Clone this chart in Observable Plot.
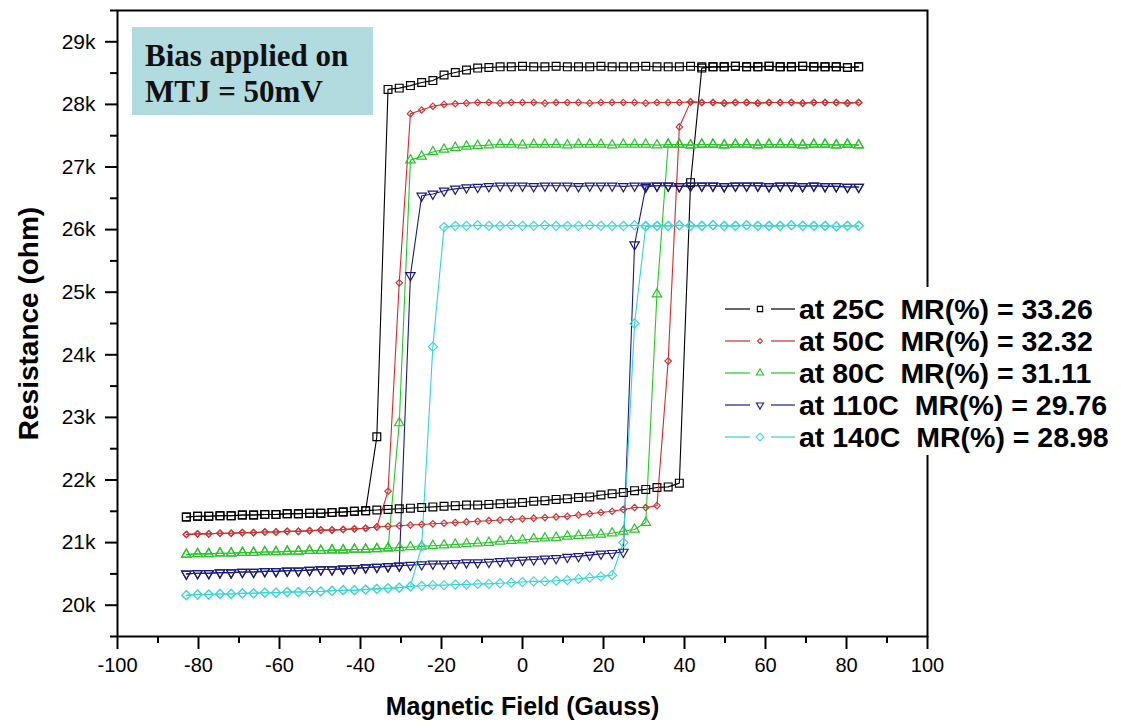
<!DOCTYPE html>
<html>
<head>
<meta charset="utf-8">
<script src="https://cdn.jsdelivr.net/npm/d3@7"></script>
<script src="https://cdn.jsdelivr.net/npm/@observablehq/plot@0.6"></script>
<style>
  body { margin: 0; background: #fff; }
  #chart { width: 1121px; height: 728px; }
</style>
</head>
<body>
<div id="chart"></div>
<script>
// Applied field sweep (Gauss), shared by every curve
const field = [
  -83, -80.23, -77.47, -74.7, -71.93, -69.17, -66.4, -63.63, -60.87, -58.1,
  -55.33, -52.57, -49.8, -47.03, -44.27, -41.5, -38.73, -35.97, -33.2, -30.43,
  -27.67, -24.9, -22.13, -19.37, -16.6, -13.83, -11.07, -8.3, -5.53, -2.77,
  0, 2.77, 5.53, 8.3, 11.07, 13.83, 16.6, 19.37, 22.13, 24.9,
  27.67, 30.43, 33.2, 35.97, 38.73, 41.5, 44.27, 47.03, 49.8, 52.57,
  55.33, 58.1, 60.87, 63.63, 66.4, 69.17, 71.93, 74.7, 77.47, 80.23,
  83
];

// Temperatures and magnetoresistance ratios
const temps = ["25C", "50C", "80C", "110C", "140C"];
const mrPercent = [33.26, 32.32, 31.11, 29.76, 28.98];

// Resistance (kOhm), increasing-field sweep, indexed like `field`
const r25Up = [
  21.41, 21.42, 21.42, 21.43, 21.43, 21.44, 21.44, 21.45, 21.45, 21.46,
  21.46, 21.47, 21.47, 21.48, 21.49, 21.50, 21.51, 21.52, 21.53, 21.54,
  21.55, 21.56, 21.57, 21.58, 21.59, 21.60, 21.60, 21.61, 21.62, 21.63,
  21.64, 21.66, 21.67, 21.69, 21.70, 21.72, 21.73, 21.76, 21.78, 21.80,
  21.83, 21.85, 21.88, 21.89, 21.95, 26.75, 28.58, 28.60, 28.60, 28.61,
  28.60, 28.60, 28.61, 28.60, 28.60, 28.61, 28.60, 28.60, 28.60, 28.59, 28.60
];
// Resistance (kOhm), decreasing-field sweep, indexed like `field`
const r25Down = [
  21.41, 21.42, 21.42, 21.43, 21.43, 21.44, 21.44, 21.45, 21.45, 21.46,
  21.46, 21.47, 21.47, 21.48, 21.49, 21.50, 21.51, 22.69, 28.24, 28.26,
  28.30, 28.35, 28.38, 28.47, 28.51, 28.55, 28.58, 28.59, 28.60, 28.60,
  28.61, 28.60, 28.60, 28.61, 28.60, 28.60, 28.60, 28.61, 28.60, 28.60,
  28.60, 28.61, 28.60, 28.60, 28.60, 28.61, 28.60, 28.60, 28.60, 28.61,
  28.60, 28.60, 28.61, 28.60, 28.60, 28.61, 28.60, 28.60, 28.60, 28.59, 28.60
];

const r50Up = [
  21.13, 21.14, 21.14, 21.15, 21.15, 21.16, 21.16, 21.17, 21.17, 21.18,
  21.18, 21.19, 21.20, 21.20, 21.21, 21.22, 21.23, 21.25, 21.26, 21.27,
  21.28, 21.29, 21.30, 21.31, 21.32, 21.33, 21.34, 21.35, 21.36, 21.37,
  21.38, 21.39, 21.40, 21.41, 21.42, 21.44, 21.46, 21.48, 21.50, 21.53,
  21.56, 21.56, 21.59, 23.90, 27.64, 28.04, 28.03, 28.03, 28.02, 28.03,
  28.03, 28.02, 28.03, 28.03, 28.03, 28.02, 28.03, 28.03, 28.03, 28.02, 28.03
];
const r50Down = [
  21.13, 21.14, 21.14, 21.15, 21.15, 21.16, 21.16, 21.17, 21.17, 21.18,
  21.18, 21.19, 21.20, 21.20, 21.21, 21.22, 21.23, 21.25, 21.82, 25.15,
  27.85, 27.91, 27.97, 28.00, 28.01, 28.02, 28.03, 28.03, 28.02, 28.03,
  28.03, 28.03, 28.02, 28.03, 28.03, 28.03, 28.02, 28.03, 28.03, 28.03,
  28.03, 28.02, 28.03, 28.03, 28.03, 28.04, 28.03, 28.03, 28.02, 28.03,
  28.03, 28.02, 28.03, 28.03, 28.03, 28.02, 28.03, 28.03, 28.03, 28.02, 28.03
];

const r80Up = [
  20.81, 20.82, 20.82, 20.83, 20.83, 20.84, 20.84, 20.85, 20.85, 20.86,
  20.86, 20.87, 20.87, 20.88, 20.88, 20.89, 20.89, 20.90, 20.91, 20.92,
  20.93, 20.94, 20.95, 20.96, 20.97, 20.98, 20.99, 21.00, 21.02, 21.03,
  21.04, 21.06, 21.07, 21.08, 21.10, 21.11, 21.12, 21.13, 21.15, 21.18,
  21.21, 21.32, 24.97, 27.36, 27.36, 27.35, 27.36, 27.36, 27.35, 27.36,
  27.36, 27.35, 27.36, 27.36, 27.36, 27.35, 27.36, 27.36, 27.35, 27.36, 27.35
];
const r80Down = [
  20.81, 20.82, 20.82, 20.83, 20.83, 20.84, 20.84, 20.85, 20.85, 20.86,
  20.86, 20.87, 20.87, 20.88, 20.88, 20.89, 20.89, 20.90, 20.91, 22.91,
  27.11, 27.17, 27.24, 27.28, 27.31, 27.33, 27.34, 27.35, 27.36, 27.36,
  27.35, 27.36, 27.36, 27.36, 27.35, 27.36, 27.36, 27.36, 27.35, 27.36,
  27.36, 27.36, 27.35, 27.36, 27.36, 27.35, 27.36, 27.36, 27.35, 27.36,
  27.36, 27.35, 27.36, 27.36, 27.36, 27.35, 27.36, 27.36, 27.35, 27.36, 27.35
];

const r110Up = [
  20.50, 20.51, 20.51, 20.52, 20.52, 20.53, 20.53, 20.54, 20.54, 20.55,
  20.55, 20.56, 20.57, 20.57, 20.58, 20.59, 20.60, 20.61, 20.62, 20.63,
  20.64, 20.65, 20.66, 20.66, 20.67, 20.68, 20.68, 20.69, 20.70, 20.71,
  20.72, 20.73, 20.74, 20.75, 20.77, 20.78, 20.80, 20.82, 20.83, 20.85,
  25.76, 26.68, 26.70, 26.70, 26.69, 26.70, 26.70, 26.70, 26.69, 26.70,
  26.70, 26.70, 26.69, 26.70, 26.70, 26.69, 26.70, 26.69, 26.69, 26.68, 26.68
];
const r110Down = [
  20.50, 20.51, 20.51, 20.52, 20.52, 20.53, 20.53, 20.54, 20.54, 20.55,
  20.55, 20.56, 20.57, 20.57, 20.58, 20.59, 20.60, 20.61, 20.62, 20.63,
  25.27, 26.54, 26.57, 26.62, 26.65, 26.67, 26.68, 26.69, 26.70, 26.70,
  26.70, 26.69, 26.70, 26.70, 26.70, 26.69, 26.70, 26.70, 26.70, 26.69,
  26.70, 26.70, 26.70, 26.70, 26.69, 26.70, 26.70, 26.70, 26.69, 26.70,
  26.70, 26.70, 26.69, 26.70, 26.70, 26.69, 26.70, 26.69, 26.69, 26.68, 26.68
];

const r140Up = [
  20.16, 20.17, 20.17, 20.18, 20.18, 20.19, 20.19, 20.20, 20.20, 20.21,
  20.21, 20.22, 20.22, 20.23, 20.24, 20.24, 20.25, 20.26, 20.27, 20.28,
  20.30, 20.31, 20.32, 20.32, 20.33, 20.33, 20.34, 20.34, 20.35, 20.36,
  20.37, 20.38, 20.38, 20.39, 20.40, 20.42, 20.44, 20.46, 20.48, 21.00,
  24.50, 26.05, 26.06, 26.06, 26.07, 26.06, 26.06, 26.07, 26.06, 26.06,
  26.07, 26.06, 26.06, 26.06, 26.07, 26.06, 26.06, 26.06, 26.05, 26.06, 26.06
];
const r140Down = [
  20.16, 20.17, 20.17, 20.18, 20.18, 20.19, 20.19, 20.20, 20.20, 20.21,
  20.21, 20.22, 20.22, 20.23, 20.24, 20.24, 20.25, 20.26, 20.27, 20.28,
  20.30, 20.94, 24.13, 26.04, 26.06, 26.06, 26.07, 26.06, 26.06, 26.07,
  26.06, 26.06, 26.07, 26.06, 26.06, 26.06, 26.07, 26.06, 26.06, 26.06,
  26.07, 26.06, 26.06, 26.06, 26.07, 26.06, 26.06, 26.07, 26.06, 26.06,
  26.07, 26.06, 26.06, 26.06, 26.07, 26.06, 26.06, 26.06, 26.05, 26.06, 26.06
];

// Axis ticks
const xTicks = [-100, -80, -60, -40, -20, 0, 20, 40, 60, 80, 100];
const xMinorTicks = [-90, -70, -50, -30, -10, 10, 30, 50, 70, 90];
const yTicks = [20, 21, 22, 23, 24, 25, 26, 27, 28, 29];
const yMinorTicks = [19.5, 20.5, 21.5, 22.5, 23.5, 24.5, 25.5, 26.5, 27.5, 28.5, 29.5];

// Appearance of each temperature curve
const upSweeps = [r25Up, r50Up, r80Up, r110Up, r140Up];
const downSweeps = [r25Down, r50Down, r80Down, r110Down, r140Down];
const colors = ["#000000", "#d42a2a", "#22c922", "#1c1c7c", "#33d3d3"];
const markerColors = ["#000000", "#c43a3a", "#2cc22c", "#1c1c7c", "#45d6d6"];
const symbols = ["square", "diamond2", "triangle", "triangle", "diamond2"];
const symbolTypes = [d3.symbolSquare, d3.symbolDiamond2, d3.symbolTriangle, d3.symbolTriangle, d3.symbolDiamond2];
const markerR = [4.4, 2.9, 3.5, 3.5, 4.1];
const rotations = [0, 0, 0, 180, 0];

// Flatten every sweep into rows
const rows = [];
temps.forEach((t, s) => {
  field.forEach((f, i) => {
    rows.push({field: f, r: downSweeps[s][i], temp: t, sweep: "down"});
  });
  field.forEach((f, i) => {
    rows.push({field: f, r: upSweeps[s][i], temp: t, sweep: "up"});
  });
});

const seriesMarks = [];
temps.forEach((t, s) => {
  const data = rows.filter(d => d.temp === t);
  seriesMarks.push(Plot.line(data, {
    x: "field", y: "r", z: "sweep", stroke: colors[s], strokeWidth: 1.1
  }));
});
temps.forEach((t, s) => {
  const data = rows.filter(d => d.temp === t);
  seriesMarks.push(Plot.dot(data, {
    x: "field", y: "r", symbol: symbols[s], r: markerR[s], rotate: rotations[s],
    stroke: markerColors[s], strokeWidth: 1.2, fill: "none"
  }));
});

const FONT = "'Liberation Sans', Arial, sans-serif";

const chart = Plot.plot({
  width: 1121,
  height: 728,
  marginLeft: 117,
  marginRight: 194,
  marginTop: 10,
  marginBottom: 92,
  x: {domain: [-100, 100]},
  y: {domain: [19.5, 29.5]},
  style: {fontFamily: FONT, fontSize: "20px", color: "#000", background: "#fff", overflow: "visible"},
  marks: [
    Plot.axisX(xMinorTicks, {tickSize: 7, strokeWidth: 2, tickFormat: () => "", label: null}),
    Plot.axisX(xTicks, {tickSize: 13, tickPadding: 8, strokeWidth: 2, fontSize: 20, tickFormat: d => String(d), label: null}),
    Plot.axisY(yMinorTicks, {tickSize: 7, strokeWidth: 2, tickFormat: () => "", label: null}),
    Plot.axisY(yTicks, {tickSize: 12, tickPadding: 10, strokeWidth: 2, fontSize: 21, tickFormat: d => d + "k", label: null}),
    Plot.frame({strokeWidth: 2}),
    ...seriesMarks,
    Plot.text(["Resistance (ohm)"], {
      frameAnchor: "left", dx: -88, rotate: -90, textAnchor: "middle", lineAnchor: "middle",
      fontSize: 28, fontWeight: "bold"
    }),
    Plot.text(["Magnetic Field (Gauss)"], {
      frameAnchor: "bottom", dy: 70, textAnchor: "middle", lineAnchor: "middle",
      fontSize: 25, fontWeight: "bold"
    })
  ]
});

const svg = d3.select(chart);

// Annotation box with the bias condition
const note = svg.append("g").attr("text-anchor", "start");
note.append("rect")
  .attr("x", 132).attr("y", 27).attr("width", 241).attr("height", 88)
  .attr("fill", "#b2dbe0");
note.append("text")
  .attr("x", 145).attr("y", 66)
  .attr("font-family", "'Liberation Serif', 'Times New Roman', serif")
  .attr("font-weight", "bold").attr("font-size", 31).attr("fill", "#111")
  .text("Bias applied on");
note.append("text")
  .attr("x", 145).attr("y", 102)
  .attr("font-family", "'Liberation Serif', 'Times New Roman', serif")
  .attr("font-weight", "bold").attr("font-size", 31).attr("fill", "#111")
  .text("MTJ = 50mV");

// Legend
const legend = svg.append("g").attr("text-anchor", "start");
legend.append("rect")
  .attr("x", 716).attr("y", 287).attr("width", 402).attr("height", 168)
  .attr("fill", "#fff");
const legendSize = [28, 16, 22, 22, 40];
temps.forEach((t, i) => {
  const y = 309 + 32 * i;
  const row = legend.append("g");
  row.append("line").attr("x1", 725).attr("x2", 750).attr("y1", y).attr("y2", y)
    .attr("stroke", colors[i]).attr("stroke-width", 1.2);
  row.append("line").attr("x1", 771).attr("x2", 795).attr("y1", y).attr("y2", y)
    .attr("stroke", colors[i]).attr("stroke-width", 1.2);
  row.append("path")
    .attr("d", d3.symbol(symbolTypes[i], legendSize[i])())
    .attr("transform", `translate(760,${y}) rotate(${rotations[i]})`)
    .attr("fill", "none").attr("stroke", markerColors[i]).attr("stroke-width", 1.1);
  row.append("text")
    .attr("x", 799).attr("y", y).attr("dy", "0.36em")
    .attr("font-family", FONT).attr("font-weight", "bold").attr("font-size", 28.5)
    .attr("fill", "#000").style("white-space", "pre")
    .text(`at ${t}  MR(%) = ${mrPercent[i].toFixed(2)}`);
});

document.getElementById("chart").appendChild(chart);
</script>
</body>
</html>
